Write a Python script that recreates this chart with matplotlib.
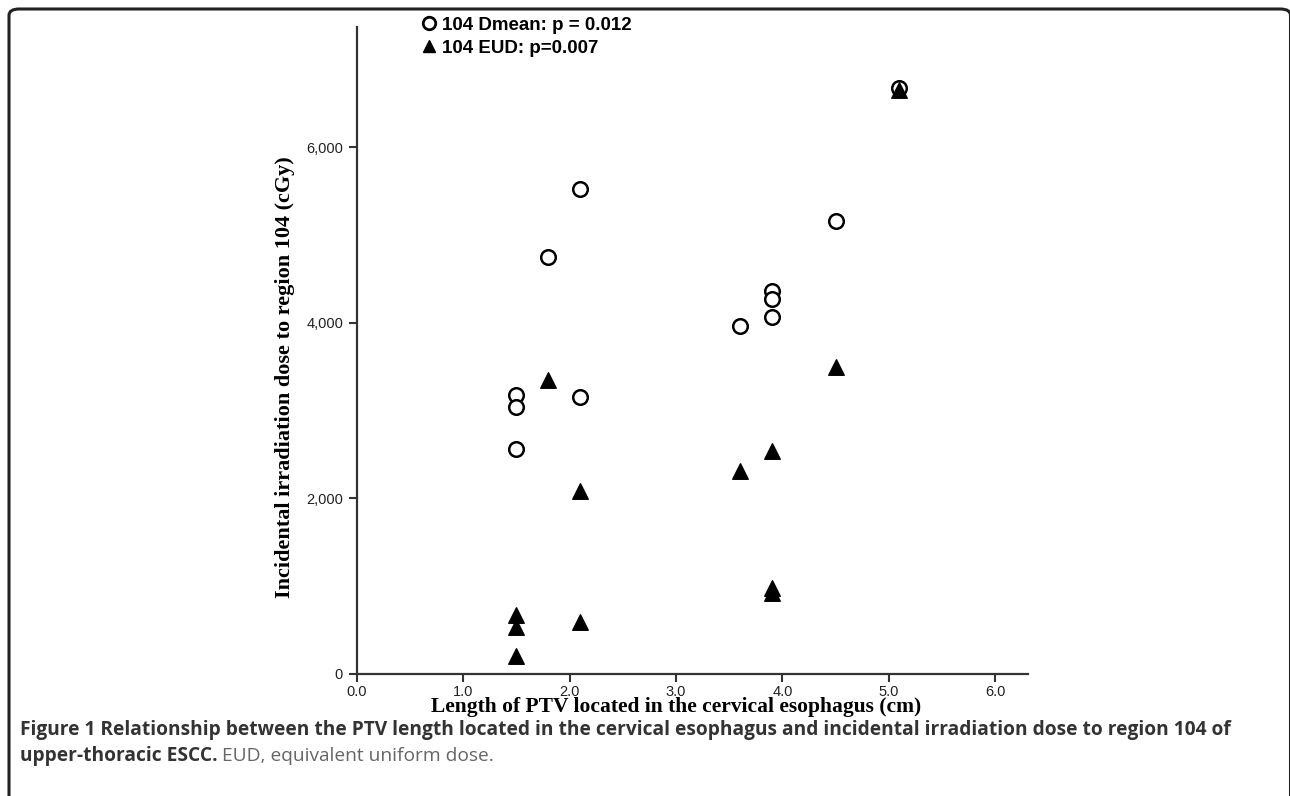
import numpy as np
import matplotlib.pyplot as plt
from matplotlib.patches import FancyBboxPatch
from matplotlib.lines import Line2D
from matplotlib.ticker import FuncFormatter

# length of PTV in cervical esophagus (cm)
ptv_len = [1.5, 1.5, 1.5, 1.8, 2.1, 2.1, 3.6, 3.9, 3.9, 3.9, 4.5, 5.1]
dmean = [3175, 3040, 2565, 4750, 5530, 3155, 3965, 4360, 4270, 4070, 5160, 6680]

ptv_len_eud = [1.5, 1.5, 1.5, 1.8, 2.1, 2.1, 3.6, 3.9, 3.9, 3.9, 4.5, 5.1]
eud = [672, 540, 205, 3350, 2080, 595, 2310, 2535, 985, 920, 3500, 6655]

xticks = [0.0, 1.0, 2.0, 3.0, 4.0, 5.0, 6.0]
yticks = [0, 2000, 4000, 6000]

fig = plt.figure(figsize=(12.9, 7.96), dpi=100)
ax = fig.add_axes([0.2767, 0.1533, 0.797 - 0.2767, 0.966 - 0.1533])

ax.scatter(ptv_len, dmean, s=110, facecolors='white', edgecolors='black',
           linewidths=1.8, marker='o', zorder=3)
ax.scatter(ptv_len_eud, eud, s=125, color='black', marker='^', zorder=3)

ax.set_xlim(0, 6.31)
ax.set_ylim(0, 7370)
ax.set_xticks(xticks)
ax.set_yticks(yticks)
ax.xaxis.set_major_formatter(FuncFormatter(lambda v, p: '%.1f' % v))
ax.yaxis.set_major_formatter(FuncFormatter(lambda v, p: '{:,.0f}'.format(v)))
for s in ['top', 'right']:
    ax.spines[s].set_visible(False)
for s in ['left', 'bottom']:
    ax.spines[s].set_linewidth(1.6)
    ax.spines[s].set_color('#333333')
ax.tick_params(axis='both', direction='out', length=6, width=1.5, color='#333333',
               labelsize=10.5, labelcolor='#222222')
ax.tick_params(axis='x', pad=2)
ax.tick_params(axis='y', pad=4)
for lab in ax.get_xticklabels() + ax.get_yticklabels():
    lab.set_fontfamily('Liberation Sans')

ax.set_xlabel('Length of PTV located in the cervical esophagus (cm)',
              fontfamily='Liberation Serif', fontweight='bold', fontsize=15.5)
ax.xaxis.set_label_coords(0.475, -(697 - 674) / 647)
ax.set_ylabel('Incidental irradiation dose to region 104 (cGy)',
              fontfamily='Liberation Serif', fontweight='bold', fontsize=16, labelpad=8,
              y=0.459)

handles = [
    Line2D([], [], marker='o', linestyle='none', markerfacecolor='white',
           markeredgecolor='black', markeredgewidth=2, markersize=9),
    Line2D([], [], marker='^', linestyle='none', color='black', markersize=9),
]
leg = ax.legend(handles, ['104 Dmean: p = 0.012', '104 EUD: p=0.007'],
                loc='upper left', bbox_to_anchor=(0.066, 1.042), frameon=False,
                handletextpad=0.1, handlelength=1.2, labelspacing=0.3,
                prop={'family': 'Liberation Sans', 'weight': 'bold', 'size': 13.5})

# outer frame with rounded top-right corner (right side runs off the edge)
frame = FancyBboxPatch((9 / 1290, -0.3), 1281.5 / 1290, 1 - 9 / 796 + 0.3,
                       boxstyle='round,pad=0,rounding_size=0.008',
                       transform=fig.transFigure, fill=False,
                       edgecolor='#222222', linewidth=2.2)
fig.patches.append(frame)

fig.text(20 / 1290, 1 - 730 / 796,
         'Figure 1 Relationship between the PTV length located in the cervical esophagus and incidental irradiation dose to region 104 of',
         fontfamily='Open Sans', fontweight='bold', fontsize=13.8, color='#333333',
         va='center', ha='left')
t1 = fig.text(20 / 1290, 1 - 756 / 796, 'upper-thoracic ESCC.',
              fontfamily='Open Sans', fontweight='bold', fontsize=13.8, color='#333333',
              va='center', ha='left')
fig.canvas.draw()
bb = t1.get_window_extent()
fig.text(bb.x1 / 1290 + 4 / 1290, 1 - 756 / 796, 'EUD, equivalent uniform dose.',
         fontfamily='Open Sans', fontsize=13.8, color='#666666', va='center', ha='left')

fig.savefig('out.png', dpi=100)
